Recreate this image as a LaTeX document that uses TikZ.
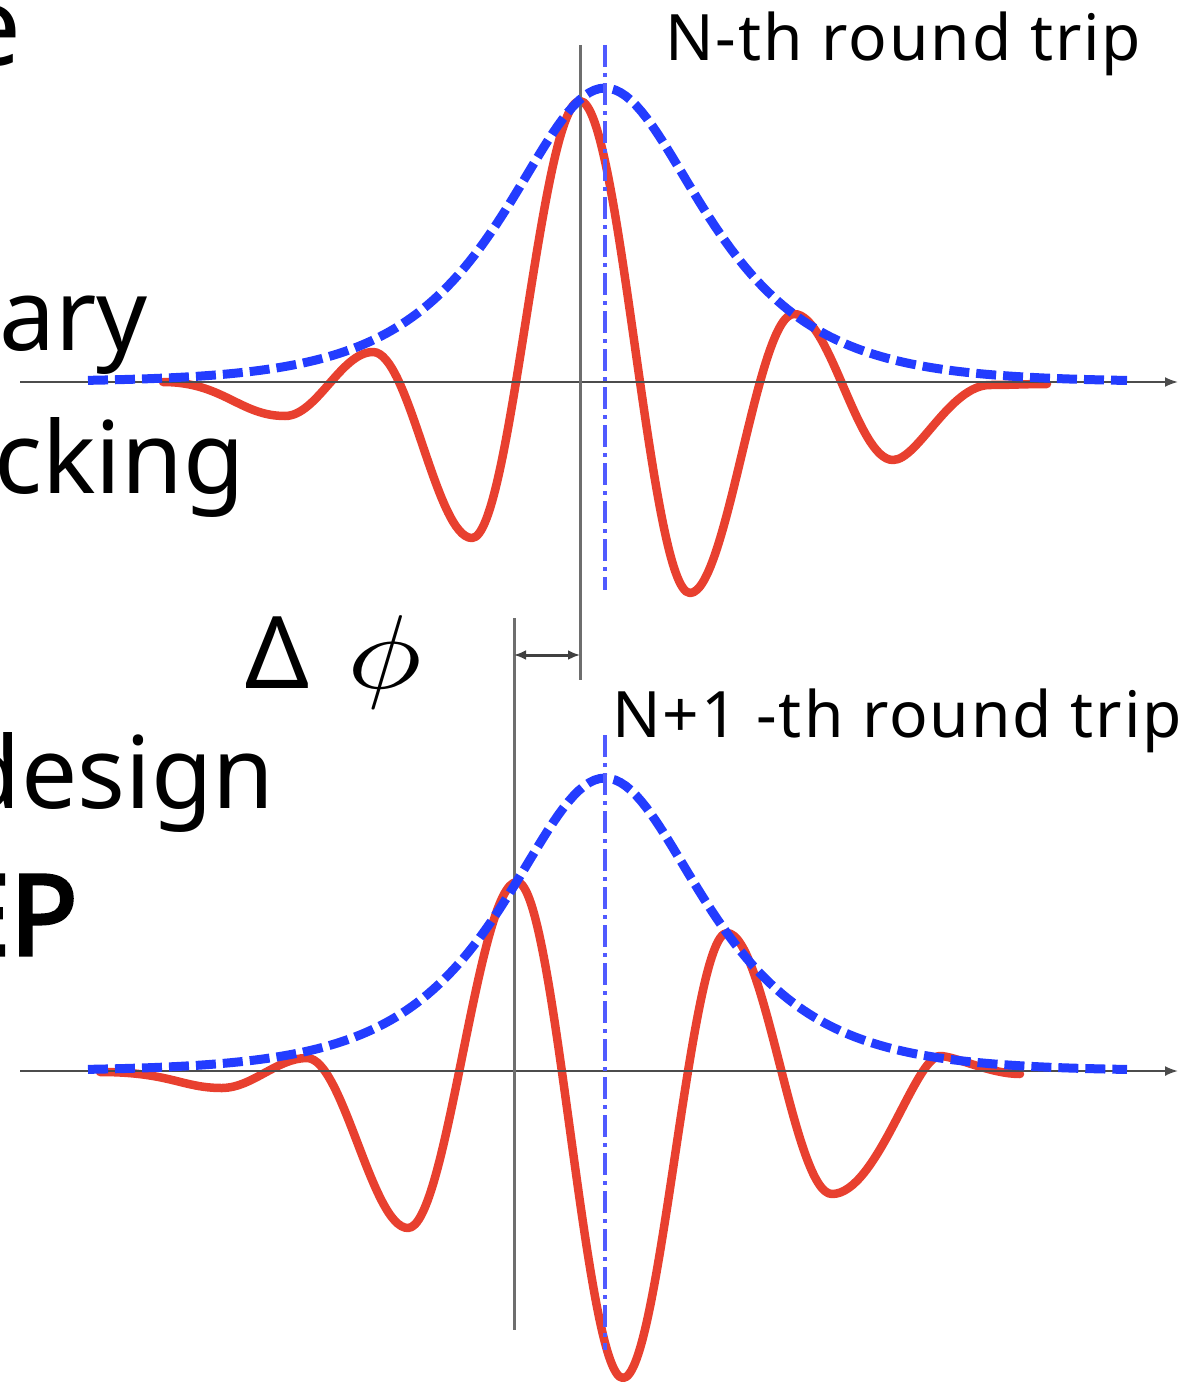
\documentclass[tikz,border=0pt]{standalone}
\usepackage{fontspec}
\setmainfont{Noto Sans}
\newfontfamily\epfont{Noto Sans}[FakeBold=3]
\usetikzlibrary{arrows.meta}
\definecolor{pulsered}{RGB}{232,64,47}
\definecolor{envblue}{RGB}{35,60,255}
\definecolor{ceoblue}{RGB}{80,90,255}
\definecolor{refgray}{RGB}{110,110,110}
\tikzset{
  timeaxis/.style={line width=2pt, black!70, -{Latex[length=13pt,width=10pt]}},
  envelope/.style={line width=9pt, envblue, dash pattern=on 20pt off 7pt},
  carrier/.style={line width=8.5pt, pulsered, line join=round, line cap=round},
  peakline/.style={line width=3pt, refgray},
  ceoline/.style={line width=3.5pt, ceoblue, dash pattern=on 22pt off 6pt on 4pt off 6pt},
  bigword/.style={font=\fontsize{100}{110}\selectfont, anchor=base east, inner sep=0pt},
  triplabel/.style={font=\fontsize{64}{72}\selectfont\addfontfeature{LetterSpace=3},
                    anchor=base west, inner sep=0pt}
}
\begin{document}
\begin{tikzpicture}[x=1pt, y=-1pt]
    \useasboundingbox (0,0) rectangle (1201,1389);
    \clip (0,0) rectangle (1201,1389);

    % ---- testo a sinistra (tagliato) ----
    \node[bigword, font=\fontsize{110}{120}\selectfont] (wE) at (22,66) {e};
    \node[bigword] (wAry) at (148,350) {ary};
    \node[bigword] (wCking) at (245,493) {cking};
    \node[bigword] (wDesign) at (275,808) {design};
    \node[bigword, font=\fontsize{112}{120}\epfont] (wEP) at (78,955) {EP};

    % ---- IMPULSO N ----
    \coordinate (axN-start) at (20,382);
    \coordinate (axN-end) at (1178,382);
    \draw[carrier] (163,382) .. controls +(60,0) and +(-45,0) .. (285,416)
        .. controls +(32,0) and +(-32,0) .. (373,352)
        .. controls +(36,0) and +(-36,0) .. (472,538)
        .. controls +(39,0) and +(-39,0) .. (580,101)
        .. controls +(40,0) and +(-40,0) .. (690,593)
        .. controls +(37,0) and +(-37,0) .. (794,314)
        .. controls +(36,0) and +(-36,0) .. (893,460)
        .. controls +(25,0) and +(-40,0) .. (990,385)
        .. controls +(20,0) and +(-20,0) .. (1047,384);
    \draw[timeaxis] (axN-start) -- (axN-end);
    \coordinate (peakN-top) at (580,45);
    \coordinate (peakN-bot) at (580,680);
    \draw[peakline] (peakN-top) -- (peakN-bot);
    \draw[envelope] plot[domain=88:1127, samples=200]
        (\x, {382-294/cosh((\x-605)/88)});
    \coordinate (ceoN-top) at (605,45);
    \coordinate (ceoN-bot) at (605,590);
    \draw[ceoline] (ceoN-top) -- (ceoN-bot);
    \node[triplabel] (tripN) at (665,60) {N-th round trip};

    % ---- IMPULSO N+1 ----
    \coordinate (axM-start) at (20,1071);
    \coordinate (axM-end) at (1178,1071);
    \draw[carrier] (100,1072) .. controls +(70,0) and +(-40,0) .. (222,1088)
        .. controls +(30,0) and +(-30,0) .. (307,1058)
        .. controls +(36,0) and +(-36,0) .. (408,1228)
        .. controls +(39,0) and +(-39,0) .. (517,882)
        .. controls +(38,0) and +(-38,0) .. (623,1378)
        .. controls +(37,0) and +(-37,0) .. (727,933)
        .. controls +(38,0) and +(-38,0) .. (832,1194)
        .. controls +(45,0) and +(-25,0) .. (940,1056)
        .. controls +(15,0) and +(-30,0) .. (1020,1074);
    \draw[timeaxis] (axM-start) -- (axM-end);
    \coordinate (peakM-top) at (514,618);
    \coordinate (peakM-bot) at (514,1330);
    \draw[peakline] (peakM-top) -- (peakM-bot);
    \draw[envelope] plot[domain=88:1127, samples=200]
        (\x, {1071-293/cosh((\x-605)/88)});
    \coordinate (ceoM-top) at (605,735);
    \coordinate (ceoM-bot) at (605,1350);
    \draw[ceoline] (ceoM-top) -- (ceoM-bot);
    \node[triplabel] (tripM) at (612,737) {N+1 -th round trip};

    % ---- FRECCIA sfasamento ----
    \coordinate (dphi-l) at (514,655);
    \coordinate (dphi-r) at (580,655);
    \draw[line width=3pt, black!75, {Latex[length=12pt,width=10pt]}-{Latex[length=12pt,width=10pt]}]
        (dphi-l) -- (dphi-r);
    \node[font=\fontsize{100}{104}\selectfont, anchor=base west, inner sep=0pt] (dphi) at (245,688)
        {Δ\hspace{38pt}{\normalsize\scalebox{12.5}[10.5]{$\phi$}}};
\end{tikzpicture}
\end{document}
